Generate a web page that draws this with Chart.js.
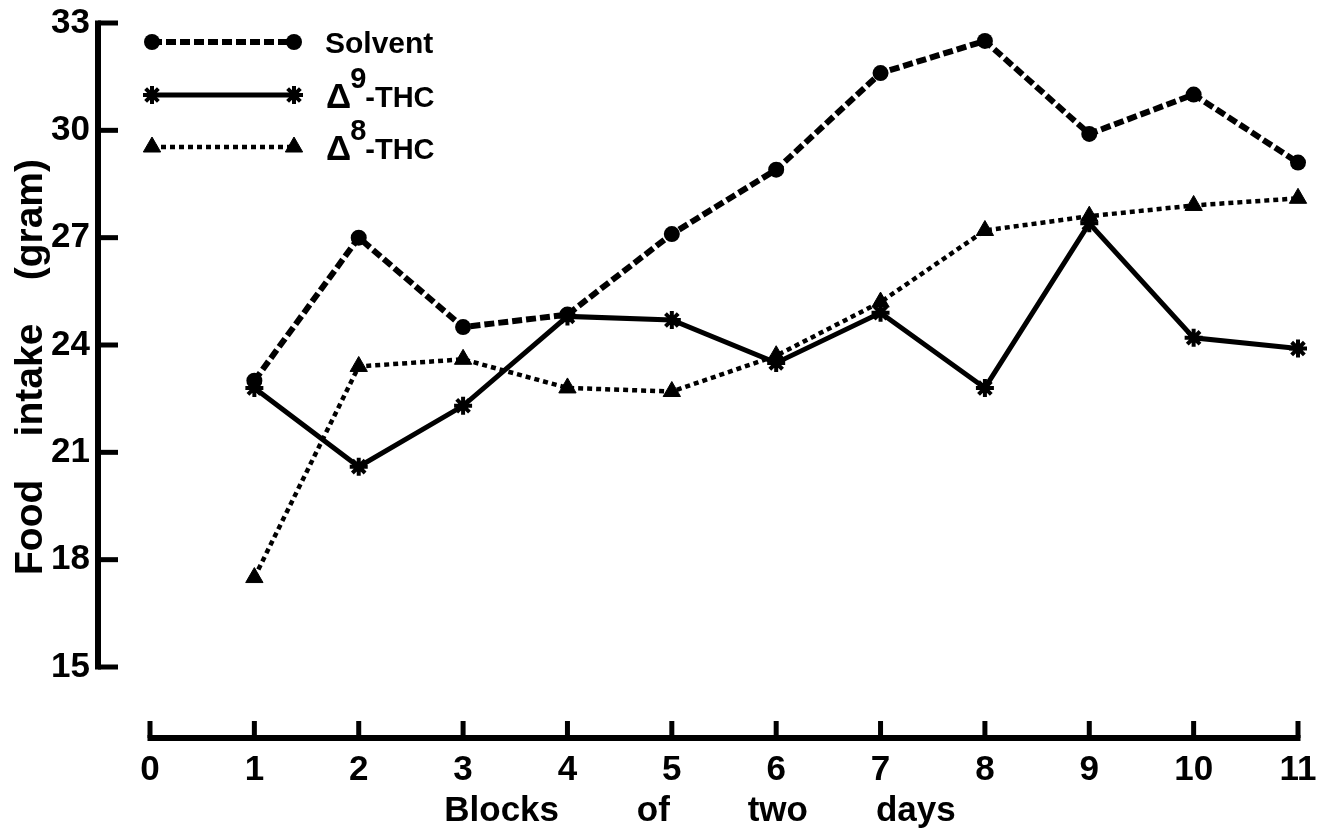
<!DOCTYPE html>
<html><head><meta charset="utf-8">
<script src="https://cdn.jsdelivr.net/npm/chart.js@4/dist/chart.umd.min.js"></script>
<style>html,body{margin:0;padding:0;background:#fff;}#wrap{width:1323px;height:831px;}</style>
</head><body><div id="wrap"><canvas id="c" width="1323" height="831"></canvas></div>
<script>
// ---- data ----
const blocks = [1, 2, 3, 4, 5, 6, 7, 8, 9, 10, 11];
const solvent = [23.0, 27.0, 24.5, 24.85, 27.1, 28.9, 31.6, 32.5, 29.9, 31.0, 29.1];
const thc9 = [22.8, 20.6, 22.3, 24.8, 24.7, 23.5, 24.9, 22.8, 27.4, 24.2, 23.9];
const thc8 = [17.5, 23.4, 23.6, 22.8, 22.7, 23.7, 25.2, 27.2, 27.6, 27.9, 28.1];
const xTickValues = [0, 1, 2, 3, 4, 5, 6, 7, 8, 9, 10, 11];
const yTickValues = [15, 18, 21, 24, 27, 30, 33];
const seriesLabels = ['Solvent', 'Δ9-THC', 'Δ8-THC'];
const xTitle = 'Blocks        of        two       days';
const yTitle = 'Food    intake    (gram)';

const FAM = "'Liberation Sans', Arial, sans-serif";

function pts(vals) { return blocks.map((b, i) => ({ x: b, y: vals[i] })); }
function zeroPad(s) { s.paddingLeft = 0; s.paddingRight = 0; s.paddingTop = 0; s.paddingBottom = 0; }

const axesPlugin = {
  id: 'axesDraw',
  beforeDatasetsDraw(chart) {
    const { ctx, chartArea, scales: { x, y } } = chart;
    ctx.save();
    ctx.strokeStyle = '#000';
    ctx.lineCap = 'butt';
    // y axis
    const yAxisX = chartArea.left - 52;
    const yTop = y.getPixelForValue(yTickValues[yTickValues.length - 1]);
    const yBot = y.getPixelForValue(yTickValues[0]);
    ctx.lineWidth = 6;
    ctx.beginPath();
    ctx.moveTo(yAxisX, yTop - 2.5);
    ctx.lineTo(yAxisX, yBot + 2.5);
    ctx.stroke();
    ctx.lineWidth = 5;
    yTickValues.forEach(v => {
      const py = y.getPixelForValue(v);
      ctx.beginPath();
      ctx.moveTo(yAxisX, py);
      ctx.lineTo(yAxisX + 20, py);
      ctx.stroke();
    });
    // x axis
    const xAxisY = chartArea.bottom + 71;
    const xl = x.getPixelForValue(xTickValues[0]);
    const xr = x.getPixelForValue(xTickValues[xTickValues.length - 1]);
    ctx.lineWidth = 6;
    ctx.beginPath();
    ctx.moveTo(xl - 2.5, xAxisY);
    ctx.lineTo(xr + 2.5, xAxisY);
    ctx.stroke();
    ctx.lineWidth = 5;
    xTickValues.forEach(v => {
      const px = x.getPixelForValue(v);
      ctx.beginPath();
      ctx.moveTo(px, xAxisY);
      ctx.lineTo(px, xAxisY - 17);
      ctx.stroke();
    });
    // titles
    ctx.fillStyle = '#000';
    ctx.font = "bold 35px " + FAM;
    ctx.textAlign = 'center';
    ctx.textBaseline = 'alphabetic';
    ctx.fillText(xTitle, 700, 821);
    ctx.save();
    ctx.translate(42, 367);
    ctx.rotate(-Math.PI / 2);
    ctx.font = "bold 39px " + FAM;
    ctx.fillText(yTitle, 0, 0);
    ctx.restore();
    ctx.restore();
  },
  afterDatasetsDraw(chart) {
    const { ctx } = chart;
    const rows = [42, 95, 147];
    ctx.save();
    chart.data.datasets.forEach((ds, i) => {
      const ry = rows[i];
      ctx.strokeStyle = '#000';
      ctx.fillStyle = '#000';
      ctx.lineWidth = ds.borderWidth;
      ctx.setLineDash(ds.borderDash || []);
      ctx.beginPath();
      ctx.moveTo(152, ry);
      ctx.lineTo(294, ry);
      ctx.stroke();
      ctx.setLineDash([]);
      [152, 294].forEach(px => {
        ctx.lineWidth = ds.pointBorderWidth;
        Chart.helpers.drawPoint(ctx, { pointStyle: ds.pointStyle, radius: ds.pointRadius, borderWidth: ds.pointBorderWidth, rotation: 0 }, px, ry);
      });
      const lab = ds.label;
      ctx.textAlign = 'left';
      ctx.textBaseline = 'alphabetic';
      if (lab.charAt(0) === 'Δ') {
        ctx.font = "bold 35px " + FAM;
        ctx.fillText('Δ', 326, ry + 13);
        const w1 = ctx.measureText('Δ').width;
        ctx.font = "bold 29px " + FAM;
        const sup = lab.charAt(1);
        ctx.fillText(sup, 326 + w1 - 1, ry - 7);
        const w2 = ctx.measureText(sup).width;
        ctx.font = "bold 29px " + FAM;
        ctx.fillText(lab.slice(2), 326 + w1 + w2 - 2, ry + 12);
      } else {
        ctx.font = "bold 30px " + FAM;
        ctx.fillText(lab, 325, ry + 11);
      }
    });
    ctx.restore();
  }
};

new Chart(document.getElementById('c'), {
  type: 'line',
  data: {
    datasets: [
      { label: seriesLabels[0], data: pts(solvent), borderColor: '#000', backgroundColor: '#000',
        pointBackgroundColor: '#000', pointBorderColor: '#000', borderWidth: 6, borderDash: [10, 4],
        pointStyle: 'circle', pointRadius: 8, pointBorderWidth: 0, tension: 0, clip: false },
      { label: seriesLabels[1], data: pts(thc9), borderColor: '#000', backgroundColor: '#000',
        pointBackgroundColor: '#000', pointBorderColor: '#000', borderWidth: 5, borderDash: [],
        pointStyle: 'star', pointRadius: 9, pointBorderWidth: 4, tension: 0, clip: false },
      { label: seriesLabels[2], data: pts(thc8), borderColor: '#000', backgroundColor: '#000',
        pointBackgroundColor: '#000', pointBorderColor: '#000', borderWidth: 4.5, borderDash: [5, 4],
        pointStyle: 'triangle', pointRadius: 10, pointBorderWidth: 1, tension: 0, clip: false }
    ]
  },
  options: {
    responsive: false,
    animation: false,
    devicePixelRatio: 1,
    events: [],
    layout: { padding: { top: 23, right: 25, left: 0, bottom: 0 } },
    plugins: { legend: { display: false }, tooltip: { enabled: false } },
    scales: {
      x: {
        type: 'linear', position: 'bottom', min: 0, max: 11,
        afterBuildTicks: s => { s.ticks = xTickValues.map(v => ({ value: v })); },
        afterFit: s => { s.height = 164; zeroPad(s); },
        grid: { display: false, drawTicks: false }, border: { display: false },
        ticks: { color: '#000', padding: 86, maxRotation: 0, autoSkip: false,
          font: { family: FAM, size: 35, weight: 'bold', lineHeight: 1 } }
      },
      y: {
        type: 'linear', position: 'left', min: 15, max: 33,
        afterBuildTicks: s => { s.ticks = yTickValues.map(v => ({ value: v })); },
        afterFit: s => { s.width = 150; zeroPad(s); },
        grid: { display: false, drawTicks: false }, border: { display: false },
        ticks: { color: '#000', padding: 60, autoSkip: false,
          font: { family: FAM, size: 35, weight: 'bold', lineHeight: 1 } }
      }
    }
  },
  plugins: [axesPlugin]
});
</script>
</body></html>
